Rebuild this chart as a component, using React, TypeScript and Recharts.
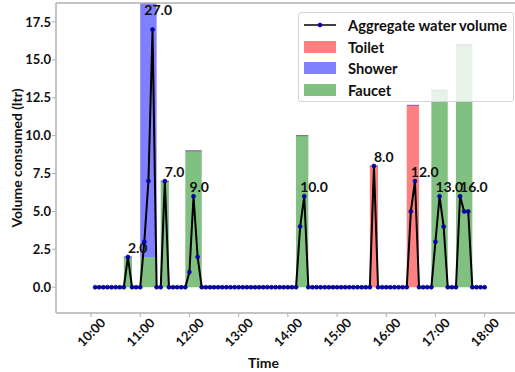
import React from "react";
import {
  ComposedChart,
  Line,
  XAxis,
  YAxis,
  ReferenceArea,
  ReferenceLine,
  ReferenceDot,
  Legend,
  Label,
} from "recharts";

// samples every 5 minutes, starting 10:05 (minutes after 10:00)
const SAMPLE_START = 5;
const SAMPLE_STEP = 5;
const aggregateVolume = [
  0, 0, 0, 0, 0, 0, 0, 0, 2, 0, 0, 0, // 10:05 - 11:00
  3, 7, 17, 0, 0, 7, 0, 0, 0, 0, 0, 1, // 11:05 - 12:00
  6, 2, 0, 0, 0, 0, 0, 0, 0, 0, 0, 0, // 12:05 - 13:00
  0, 0, 0, 0, 0, 0, 0, 0, 0, 0, 0, 0, // 13:05 - 14:00
  0, 0, 4, 6, 0, 0, 0, 0, 0, 0, 0, 0, // 14:05 - 15:00
  0, 0, 0, 0, 0, 0, 0, 0, 8, 0, 0, 0, // 15:05 - 16:00
  0, 0, 0, 0, 0, 5, 7, 0, 0, 0, 0, 3, // 16:05 - 17:00
  6, 4, 0, 0, 0, 6, 5, 5, 0, 0, 0, 0, // 17:05 - 18:00
];

// detected events (minutes after 10:00)
const eventStart = [40, 60, 85, 115, 250, 340, 385, 415, 445];
const eventEnd = [50, 80, 95, 135, 265, 350, 400, 435, 465];
const toiletVol = [0, 0, 0, 0, 0, 8, 12, 0, 0];
const showerVol = [0, 25, 0, 0, 0, 0, 0, 0, 0];
const faucetVol = [2, 2, 7, 9, 10, 0, 0, 13, 16];

const xTicks = [0, 60, 120, 180, 240, 300, 360, 420, 480];
const xTickLabels = ["10:00", "11:00", "12:00", "13:00", "14:00", "15:00", "16:00", "17:00", "18:00"];
const yTicks = [0, 2.5, 5, 7.5, 10, 12.5, 15, 17.5];

const X_DOMAIN = [-42.7, 517];
const Y_DOMAIN = [-1.7, 18.75];

const COLORS = {
  toilet: "#ff8080",
  shower: "#8080ff",
  faucet: "#80c080",
  edge: "#8a55a8",
  axis: "#b0b0b0",
  dot: "#0000cc",
};

const lineData = aggregateVolume.map((v, i) => ({
  t: SAMPLE_START + i * SAMPLE_STEP,
  volume: v,
}));

// stacked segments per event: toilet, faucet, shower
const segments = eventStart.flatMap((s, i) => {
  const parts = [
    { v: toiletVol[i], fill: COLORS.toilet },
    { v: faucetVol[i], fill: COLORS.faucet },
    { v: showerVol[i], fill: COLORS.shower },
  ];
  let base = 0;
  const out: { x1: number; x2: number; y1: number; y2: number; fill: string }[] = [];
  parts.forEach((p) => {
    if (p.v > 0) {
      out.push({ x1: s, x2: eventEnd[i], y1: base, y2: base + p.v, fill: p.fill });
      base += p.v;
    }
  });
  return out;
});

// label per event: at first non-zero sample, at the peak sample value
const eventLabels = eventStart.map((s, i) => {
  const inside = lineData.filter((d) => d.t > s && d.t < eventEnd[i]);
  const first = inside.find((d) => d.volume > 0) ?? inside[0];
  const peak = Math.max(...inside.map((d) => d.volume));
  const total = toiletVol[i] + showerVol[i] + faucetVol[i];
  return { x: first.t, y: peak, text: total.toFixed(1) };
});

const tickLabelOf = (v: number) => xTickLabels[xTicks.indexOf(v)] ?? "";

const TimeTick = (props: any) => {
  const { x, y, payload } = props;
  return (
    <g transform={`translate(${x},${y + 13})`}>
      <text
        transform="rotate(-45)"
        textAnchor="middle"
        dominantBaseline="central"
        fontSize={13}
        fontWeight={700}
        fill="#111"
      >
        {tickLabelOf(payload.value)}
      </text>
    </g>
  );
};

const legendItems = [
  { name: "Aggregate water volume", kind: "line" },
  { name: "Toilet", color: COLORS.toilet },
  { name: "Shower", color: COLORS.shower },
  { name: "Faucet", color: COLORS.faucet },
];

const LegendBox = () => (
  <div
    style={{
      boxSizing: "border-box",
      width: 216,
      height: 90,
      paddingTop: 1,
      background: "rgba(255,255,255,0.8)",
      border: "1px solid #d4d4d4",
      borderRadius: 3,
    }}
  >
    {legendItems.map((it) => (
      <div
        key={it.name}
        style={{ display: "flex", alignItems: "center", height: 21.7 }}
      >
        <svg width={32} height={14} style={{ marginLeft: 5, marginRight: 12 }}>
          {it.kind === "line" ? (
            <>
              <line x1={0} x2={32} y1={7} y2={7} stroke="#000" strokeWidth={1.5} />
              <circle cx={16} cy={7} r={2} fill={COLORS.dot} stroke="#00005a" strokeWidth={0.6} />
            </>
          ) : (
            <rect x={0} y={1} width={32} height={12} fill={it.color} />
          )}
        </svg>
        <span style={{ fontSize: 14.7, fontWeight: 700, color: "#111", whiteSpace: "nowrap" }}>
          {it.name}
        </span>
      </div>
    ))}
  </div>
);

export default function App() {
  return (
    <div style={{ position: "absolute", left: 0, top: 0, fontFamily: "Lato, sans-serif" }}>
      <ComposedChart
        width={515}
        height={372}
        data={lineData}
        margin={{ top: 3, right: 0, bottom: 0, left: 0 }}
      >
        <XAxis
          dataKey="t"
          type="number"
          domain={X_DOMAIN}
          allowDataOverflow
          ticks={xTicks}
          interval={0}
          height={59}
          tickSize={4}
          tick={<TimeTick />}
          axisLine={{ stroke: COLORS.axis, strokeWidth: 1.5 }}
          tickLine={{ stroke: COLORS.axis }}
        >
          <Label
            value="Time"
            position="insideBottom"
            offset={4}
            dx={-22}
            style={{ fontSize: 14, fontWeight: 700, fill: "#111" }}
          />
        </XAxis>
        <YAxis
          type="number"
          domain={Y_DOMAIN}
          allowDataOverflow
          ticks={yTicks}
          width={56}
          tickSize={4}
          tickMargin={1}
          tickFormatter={(v: number) => v.toFixed(1)}
          tick={{ fontSize: 13, fontWeight: 700, fill: "#111" }}
          axisLine={{ stroke: COLORS.axis, strokeWidth: 1.5 }}
          tickLine={{ stroke: COLORS.axis }}
        >
          <Label
            value="Volume consumed (ltr)"
            angle={-90}
            position="insideLeft"
            offset={17}
            style={{ fontSize: 14, fontWeight: 700, fill: "#111", textAnchor: "middle" }}
          />
        </YAxis>
        <ReferenceLine y={Y_DOMAIN[1]} stroke={COLORS.axis} strokeWidth={1.5} ifOverflow="visible" />
        {segments.map((sg, i) => (
          <ReferenceArea
            key={`seg-${i}`}
            x1={sg.x1}
            x2={sg.x2}
            y1={sg.y1}
            y2={sg.y2}
            fill={sg.fill}
            fillOpacity={1}
            stroke="none"
            ifOverflow="hidden"
          />
        ))}
        {eventStart.map((s, i) => {
          const total = toiletVol[i] + showerVol[i] + faucetVol[i];
          return (
            <ReferenceLine
              key={`top-${i}`}
              segment={[
                { x: s, y: total },
                { x: eventEnd[i], y: total },
              ]}
              stroke={COLORS.edge}
              strokeWidth={1}
            />
          );
        })}
        <Line
          dataKey="volume"
          stroke="#000"
          strokeWidth={2}
          dot={{ r: 2, fill: COLORS.dot, stroke: "#00005a", strokeWidth: 0.6 }}
          activeDot={false}
          isAnimationActive={false}
        />
        {eventLabels.map((lb, i) => (
          <ReferenceDot
            key={`lbl-${i}`}
            x={lb.x}
            y={lb.y}
            r={0}
            fill="none"
            stroke="none"
            label={(p: any) => (
              <text
                x={p.viewBox.x}
                y={p.viewBox.y - (lb.y > 15 ? 15 : 4)}
                fontSize={14}
                fontWeight={700}
                fill="#111"
              >
                {lb.text}
              </text>
            )}
          />
        ))}
        <Legend
          layout="vertical"
          align="center"
          verticalAlign="middle"
          wrapperStyle={{ left: 298, top: 12, width: 216, height: 90 }}
          content={<LegendBox />}
        />
      </ComposedChart>
    </div>
  );
}
